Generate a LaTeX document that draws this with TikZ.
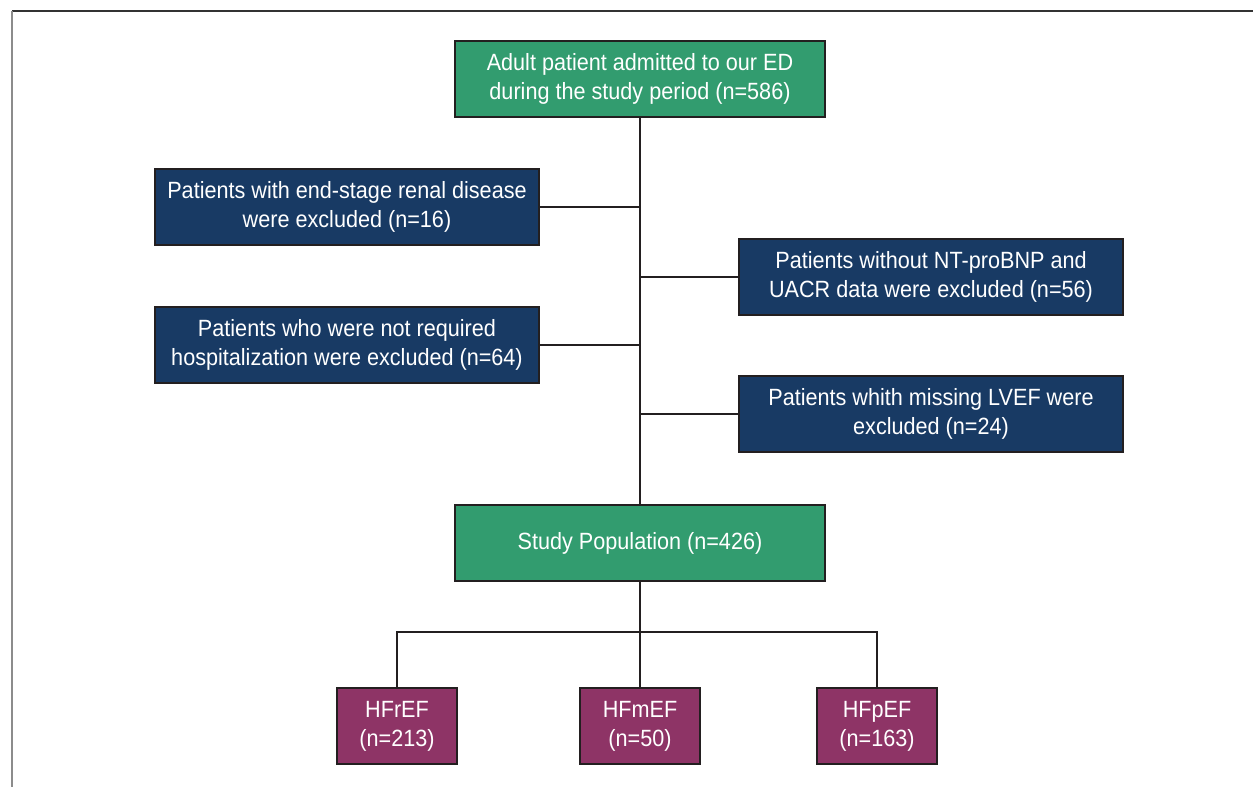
\documentclass[tikz,border=0pt]{standalone}
\usepackage{fontspec}
\setmainfont{Liberation Sans}[FakeStretch=0.92]
\definecolor{incgreen}{RGB}{50,156,111}
\definecolor{excnavy}{RGB}{24,58,100}
\definecolor{grpplum}{RGB}{142,52,102}
\definecolor{boxline}{RGB}{35,31,32}

\begin{document}
\begin{tikzpicture}[x=1pt,y=-1pt,
    box/.style={draw=boxline,line width=2.5pt,text=white,align=center,
      inner sep=0pt,font=\fontsize{23.5}{29}\selectfont},
    greenbox/.style={box,fill=incgreen,minimum width=370pt,minimum height=76pt},
    navybox/.style={box,fill=excnavy,minimum width=384pt,minimum height=76pt},
    plumbox/.style={box,fill=grpplum,minimum width=120pt,minimum height=76pt},
    link/.style={draw=boxline,line width=2pt}]

    \useasboundingbox (0,0) rectangle (1253,787);
    % frame
    \draw[line width=2pt,color=black!80] (12,11) -- (1253,11);
    \draw[line width=2.5pt,color=black!45] (12,11) -- (12,787);

    % boxes
    \node[greenbox] (adult) at (640,79) {Adult patient admitted to our ED\\during the study period (n=586)};
    \node[navybox] (esrd) at (347,207) {Patients with end-stage renal disease\\were excluded (n=16)};
    \node[navybox] (bnp) at (931,277) {Patients without NT-proBNP and\\UACR data were excluded (n=56)};
    \node[navybox] (hosp) at (347,345) {Patients who were not required\\hospitalization were excluded (n=64)};
    \node[navybox] (lvef) at (931,414) {Patients whith missing LVEF were\\excluded (n=24)};
    \node[greenbox] (study) at (640,543) {Study Population (n=426)};
    \node[plumbox] (hfr) at (397,726) {HFrEF\\(n=213)};
    \node[plumbox] (hfm) at (640,726) {HFmEF\\(n=50)};
    \node[plumbox] (hfp) at (877,726) {HFpEF\\(n=163)};
    \coordinate (split) at (640,632);

    % connectors
    \draw[link] (adult) -- (study);
    \foreach \b in {esrd,bnp,hosp,lvef}
    \draw[link] (\b) -- (\b -| adult);
    \draw[link] (study) -- (split);
    \draw[link] (hfr) |- (split) -| (hfp);
    \draw[link] (split) -- (hfm);

\end{tikzpicture}
\end{document}
